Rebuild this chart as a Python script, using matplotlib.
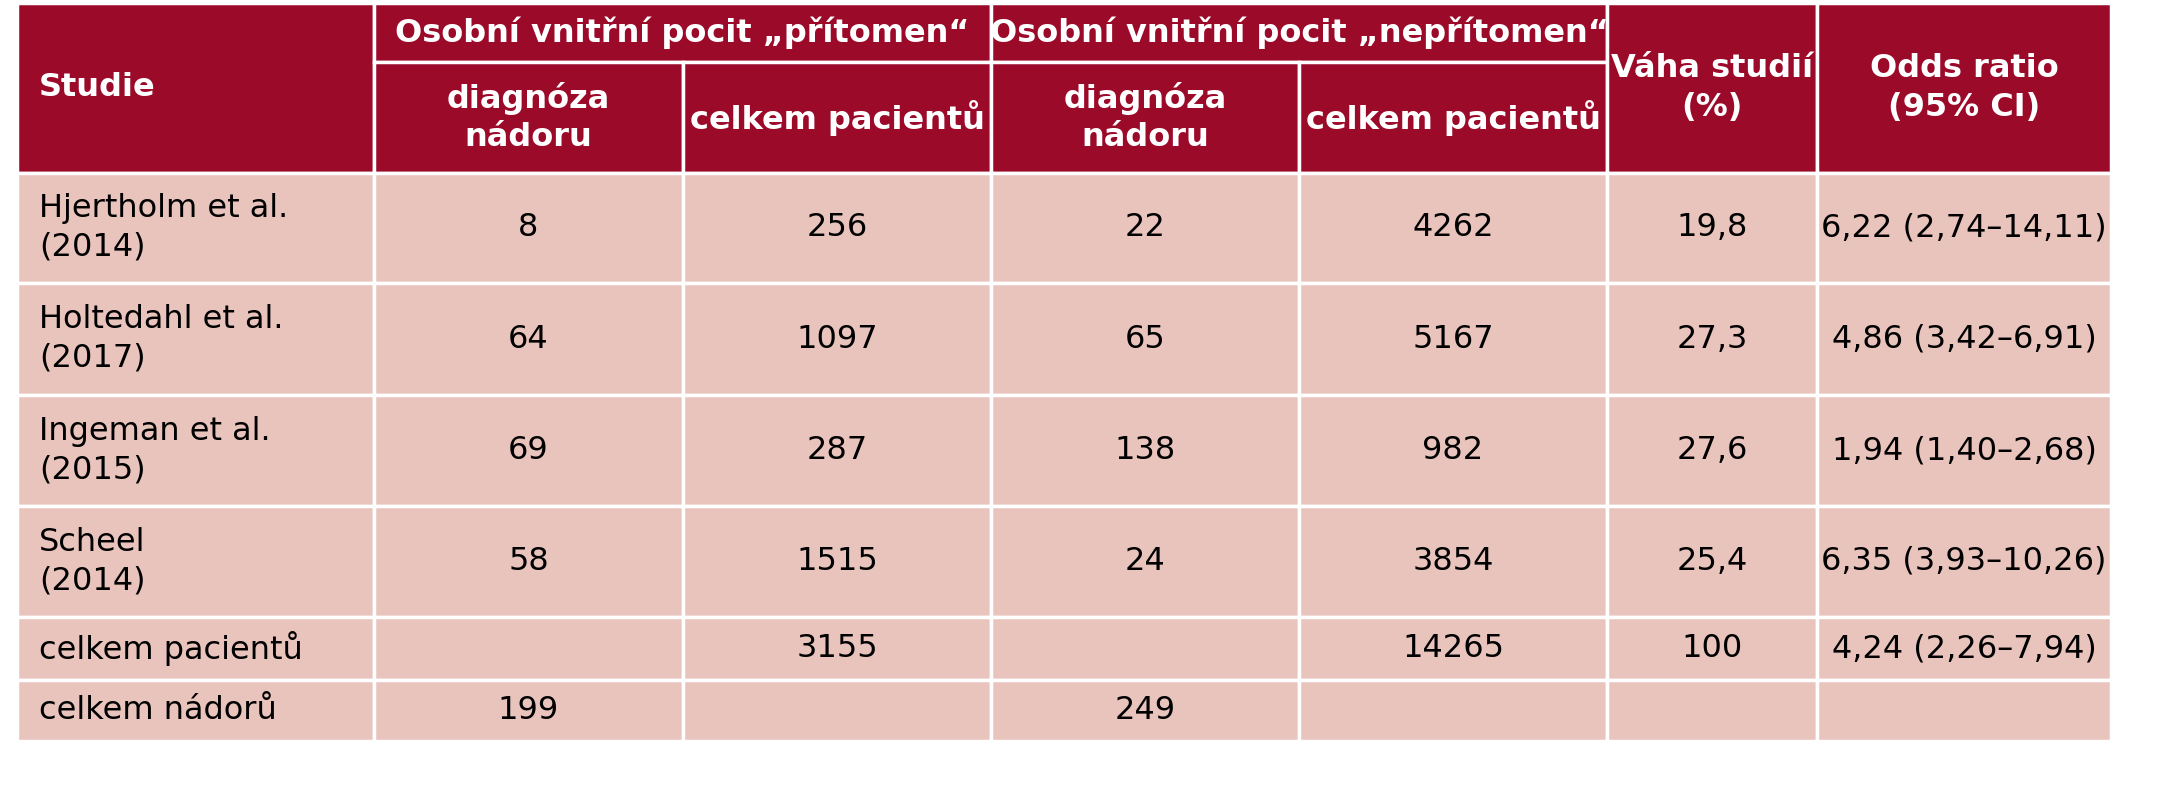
import matplotlib.pyplot as plt
from matplotlib.patches import Rectangle

studies = ["Hjertholm et al.\n(2014)", "Holtedahl et al.\n(2017)", "Ingeman et al.\n(2015)",
           "Scheel\n(2014)", "celkem pacientů", "celkem nádorů"]
present_dx = ["8", "64", "69", "58", "", "199"]
present_total = ["256", "1097", "287", "1515", "3155", ""]
absent_dx = ["22", "65", "138", "24", "", "249"]
absent_total = ["4262", "5167", "982", "3854", "14265", ""]
weight = ["19,8", "27,3", "27,6", "25,4", "100", ""]
odds = ["6,22 (2,74–14,11)", "4,86 (3,42–6,91)", "1,94 (1,40–2,68)",
        "6,35 (3,93–10,26)", "4,24 (2,26–7,94)", ""]

col_x = [17, 374, 683, 991, 1299, 1607, 1817, 2111]
row_y = [173, 283, 395, 506, 617, 680, 741]
head_y = [3, 62, 173]

HEAD = "#9c0a2a"
BODY = "#e9c4bd"
FAM = ["Liberation Sans Narrow", "DejaVu Sans"]

fig = plt.figure(figsize=(21.57, 8), dpi=100)
ax = fig.add_axes([0, 0, 1, 1])
ax.set_xlim(0, 2157)
ax.set_ylim(800, 0)
ax.axis("off")

def cell(x0, x1, y0, y1, color, text="", ha="center", bold=False, tc="black", size=23):
    ax.add_patch(Rectangle((x0, y0), x1 - x0, y1 - y0, facecolor=color,
                           edgecolor="white", linewidth=2.5))
    if text:
        tx = (x0 + x1) / 2 if ha == "center" else x0 + 22
        ax.text(tx, (y0 + y1) / 2, text, ha=ha, va="center", color=tc,
                fontsize=size, family=FAM, fontweight="bold" if bold else "normal",
                linespacing=1.3)

# header
h = dict(bold=True, tc="white", size=23)
cell(col_x[0], col_x[1], head_y[0], head_y[2], HEAD, "Studie", ha="left", **h)
cell(col_x[1], col_x[3], head_y[0], head_y[1], HEAD, "Osobní vnitřní pocit „přítomen“", **h)
cell(col_x[3], col_x[5], head_y[0], head_y[1], HEAD, "Osobní vnitřní pocit „nepřítomen“", **h)
for i in (1, 3):
    cell(col_x[i], col_x[i + 1], head_y[1], head_y[2], HEAD, "diagnóza\nnádoru", **h)
    cell(col_x[i + 1], col_x[i + 2], head_y[1], head_y[2], HEAD, "celkem pacientů", **h)
cell(col_x[5], col_x[6], head_y[0], head_y[2], HEAD, "Váha studií\n(%)", **h)
cell(col_x[6], col_x[7], head_y[0], head_y[2], HEAD, "Odds ratio\n(95% CI)", **h)

# body
columns = [present_dx, present_total, absent_dx, absent_total, weight, odds]
for r in range(len(studies)):
    y0, y1 = row_y[r], row_y[r + 1]
    cell(col_x[0], col_x[1], y0, y1, BODY, studies[r], ha="left")
    for c, vals in enumerate(columns):
        cell(col_x[c + 1], col_x[c + 2], y0, y1, BODY, vals[r])

fig.savefig("out.png", dpi=100, facecolor="white")
